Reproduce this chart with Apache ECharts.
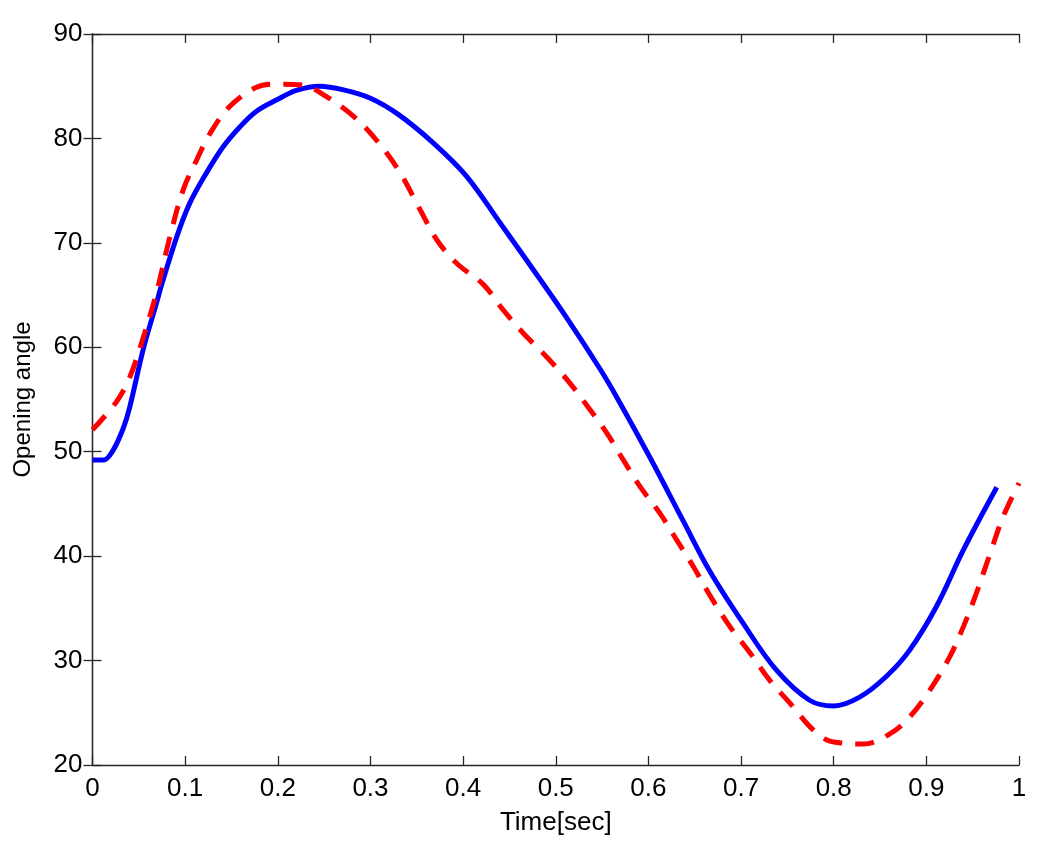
<!DOCTYPE html>
<html>
<head>
<meta charset="utf-8">
<script src="https://cdn.jsdelivr.net/npm/echarts@6/dist/echarts.min.js"></script>
<style>
    html, body { margin: 0; padding: 0; background: #fff; }
    #main { width: 1050px; height: 848px; }
</style>
</head>
<body>
<div id="main"></div>
<script>
// solid blue curve
var blueTime = [0, 0.012, 0.022, 0.033, 0.040, 0.055, 0.069, 0.075, 0.091, 0.105, 0.123, 0.141, 0.159, 0.177, 0.199, 0.220, 0.245, 0.271, 0.300, 0.330, 0.368, 0.404, 0.440, 0.476, 0.512, 0.548, 0.566, 0.602, 0.638, 0.666, 0.702, 0.738, 0.774, 0.800, 0.828, 0.857, 0.882, 0.911, 0.940, 0.976];
var blueAngle = [49.2, 49.2, 50.1, 52.2, 54.2, 59.9, 64.2, 66.1, 70.6, 73.8, 76.7, 79.2, 81.1, 82.6, 83.7, 84.6, 85.0, 84.65, 83.85, 82.3, 79.55, 76.35, 71.9, 67.4, 62.8, 57.9, 55.2, 49.4, 43.3, 38.6, 33.6, 29.1, 26.2, 25.65, 26.5, 28.5, 31.0, 35.2, 40.6, 46.6];

// dashed red curve
var redTime = [0, 0.026, 0.0405, 0.055, 0.069, 0.0836, 0.098, 0.1125, 0.127, 0.148, 0.177, 0.199, 0.2275, 0.249, 0.278, 0.303, 0.330, 0.3535, 0.3715, 0.393, 0.422, 0.443, 0.465, 0.490, 0.515, 0.533, 0.555, 0.573, 0.591, 0.6125, 0.6305, 0.6485, 0.666, 0.688, 0.710, 0.731, 0.753, 0.774, 0.7925, 0.810, 0.832, 0.861, 0.882, 0.904, 0.9255, 0.940, 0.954, 0.969, 0.983, 1.0];
var redAngle = [52.1, 54.8, 57.2, 61.0, 65.2, 70.6, 75.1, 77.95, 80.5, 83.05, 84.9, 85.2, 85.1, 84.2, 82.4, 80.2, 77.0, 73.2, 70.3, 68.05, 66.0, 63.6, 61.35, 59.1, 56.6, 54.5, 51.8, 49.2, 46.65, 44.1, 41.55, 39.0, 36.3, 33.25, 30.7, 28.1, 25.9, 23.7, 22.4, 22.1, 22.0, 23.0, 24.6, 27.2, 30.4, 33.25, 36.45, 40.3, 43.8, 47.0];

function pairs(xs, ys) {
    var out = [];
    xs.forEach((x, i) => { out.push([x, ys[i]]); });
    return out;
}

var axisColor = '#262626';
var fontFam = "'Liberation Sans', Arial, sans-serif";

var myChart = echarts.init(document.getElementById('main'));
var option = {
    animation: false,
    grid: { left: 92.5, right: 31, top: 34, bottom: 83 },
    xAxis: [{
        type: 'value',
        min: 0, max: 1, interval: 0.1,
        name: 'Time[sec]',
        nameLocation: 'middle',
        nameGap: 45,
        nameTextStyle: { color: '#000', fontSize: 26, fontFamily: fontFam },
        axisLine: { lineStyle: { color: axisColor, width: 1.3 } },
        axisTick: { inside: true, length: 9, lineStyle: { color: axisColor, width: 1.3 } },
        axisLabel: { color: '#000', fontSize: 26, fontFamily: fontFam, margin: 11 },
        splitLine: { show: false }
    }, {
        type: 'value', position: 'top',
        min: 0, max: 1, interval: 0.1,
        axisLine: { lineStyle: { color: axisColor, width: 1.3 } },
        axisTick: { inside: true, length: 9, lineStyle: { color: axisColor, width: 1.3 } },
        axisLabel: { show: false },
        splitLine: { show: false }
    }],
    yAxis: [{
        type: 'value',
        min: 20, max: 90, interval: 10,
        name: 'Opening angle',
        nameLocation: 'middle',
        nameGap: 57,
        nameTextStyle: { color: '#000', fontSize: 24, fontFamily: fontFam },
        axisLine: { show: true, lineStyle: { color: axisColor, width: 1.3 } },
        axisTick: { show: true, inside: true, length: 9, lineStyle: { color: axisColor, width: 1.3 } },
        axisLabel: { color: '#000', fontSize: 26, fontFamily: fontFam, margin: 10 },
        splitLine: { show: false }
    }, {
        type: 'value', position: 'right',
        min: 20, max: 90, interval: 10,
        axisLine: { show: true, lineStyle: { color: axisColor, width: 1.3 } },
        axisTick: { show: true, inside: true, length: 9, lineStyle: { color: axisColor, width: 1.3 } },
        axisLabel: { show: false },
        splitLine: { show: false }
    }],
    series: [{
        type: 'line',
        data: pairs(blueTime, blueAngle),
        showSymbol: false,
        smooth: 0.35,
        lineStyle: { color: '#0000ff', width: 5 }
    }, {
        type: 'line',
        data: pairs(redTime, redAngle),
        showSymbol: false,
        smooth: 0.35,
        lineStyle: { color: '#ff0000', width: 5, type: [19, 13] }
    }]
};
myChart.setOption(option);
</script>
</body>
</html>
